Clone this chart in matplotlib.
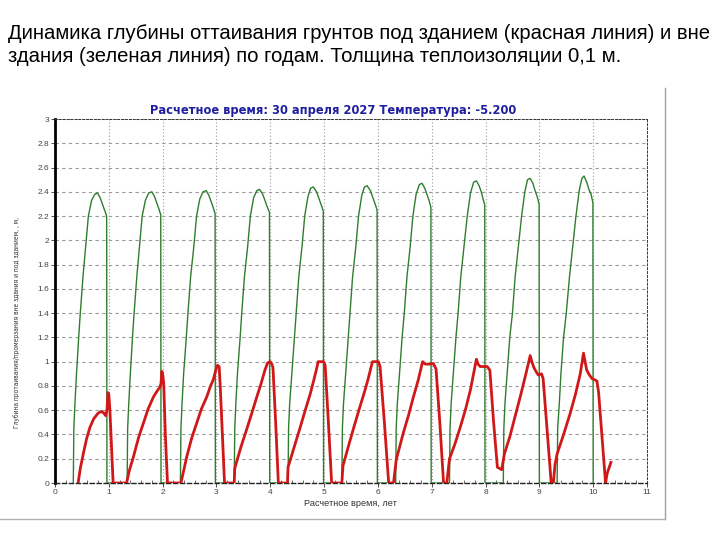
import matplotlib
matplotlib.use("Agg")
import matplotlib.pyplot as plt
from matplotlib.lines import Line2D
from matplotlib.ticker import MultipleLocator, FuncFormatter

# ---------------- data ----------------
heading = ("Динамика глубины оттаивания грунтов под зданием (красная линия) и вне\n"
           "здания (зеленая линия) по годам. Толщина теплоизоляции 0,1 м.")
chart_title = "Расчетное время: 30 апреля 2027 Температура: -5.200"
x_label = "Расчетное время, лет"
y_label = "Глубина протаивания/промерзания вне здания и под зданием, , м,"

x_ticks = [0, 1, 2, 3, 4, 5, 6, 7, 8, 9, 10, 11]
y_ticks = [0, 0.2, 0.4, 0.6, 0.8, 1, 1.2, 1.4, 1.6, 1.8, 2, 2.2, 2.4, 2.6, 2.8, 3]

# green: thaw depth outside the building
green_t = [
    0.34, 0.35, 0.37, 0.40, 0.44, 0.47, 0.52, 0.57, 0.62, 0.68, 0.74, 0.79, 0.84, 0.88, 0.92, 0.96, 0.965,
    1.34, 1.35, 1.37, 1.40, 1.44, 1.47, 1.52, 1.57, 1.62, 1.68, 1.74, 1.80, 1.85, 1.89, 1.93, 1.965, 1.97,
    2.33, 2.34, 2.36, 2.39, 2.44, 2.47, 2.52, 2.58, 2.63, 2.69, 2.75, 2.81, 2.86, 2.90, 2.94, 2.975, 2.98,
    3.33, 3.34, 3.36, 3.39, 3.44, 3.47, 3.52, 3.58, 3.63, 3.69, 3.75, 3.80, 3.86, 3.90, 3.94, 3.985, 3.99,
    4.33, 4.34, 4.36, 4.40, 4.45, 4.48, 4.53, 4.59, 4.64, 4.70, 4.75, 4.80, 4.86, 4.90, 4.94, 4.985, 4.99,
    5.33, 5.34, 5.36, 5.40, 5.45, 5.48, 5.53, 5.59, 5.64, 5.70, 5.75, 5.80, 5.86, 5.90, 5.94, 5.985, 5.99,
    6.33, 6.34, 6.36, 6.40, 6.45, 6.49, 6.54, 6.60, 6.65, 6.71, 6.77, 6.82, 6.87, 6.91, 6.95, 6.985, 6.99,
    7.33, 7.34, 7.36, 7.40, 7.45, 7.49, 7.54, 7.60, 7.66, 7.72, 7.78, 7.83, 7.88, 7.92, 7.95, 7.985, 7.99,
    8.33, 8.34, 8.36, 8.40, 8.45, 8.50, 8.55, 8.61, 8.67, 8.73, 8.78, 8.83, 8.88, 8.92, 8.96, 8.995, 9.00,
    9.33, 9.34, 9.37, 9.40, 9.45, 9.50, 9.56, 9.62, 9.68, 9.74, 9.79, 9.83, 9.88, 9.92, 9.96, 9.995, 10.00,
]
green_d = [
    0, 0.45, 0.65, 0.90, 1.20, 1.40, 1.70, 1.95, 2.20, 2.33, 2.38, 2.39, 2.35, 2.30, 2.25, 2.20, 0,
    0, 0.45, 0.65, 0.90, 1.20, 1.40, 1.70, 1.95, 2.20, 2.33, 2.39, 2.40, 2.36, 2.31, 2.26, 2.21, 0,
    0, 0.45, 0.65, 0.90, 1.20, 1.40, 1.70, 1.95, 2.20, 2.34, 2.40, 2.41, 2.37, 2.32, 2.27, 2.22, 0,
    0, 0.45, 0.65, 0.90, 1.20, 1.40, 1.70, 1.95, 2.20, 2.35, 2.41, 2.42, 2.38, 2.33, 2.28, 2.23, 0,
    0, 0.45, 0.65, 0.90, 1.20, 1.40, 1.70, 1.95, 2.20, 2.36, 2.43, 2.44, 2.40, 2.35, 2.30, 2.24, 0,
    0, 0.45, 0.65, 0.90, 1.20, 1.40, 1.70, 1.95, 2.20, 2.37, 2.44, 2.45, 2.41, 2.36, 2.31, 2.25, 0,
    0, 0.45, 0.65, 0.90, 1.20, 1.40, 1.70, 1.95, 2.20, 2.38, 2.46, 2.47, 2.43, 2.38, 2.33, 2.27, 0,
    0, 0.45, 0.65, 0.90, 1.20, 1.40, 1.70, 1.95, 2.20, 2.39, 2.48, 2.49, 2.45, 2.40, 2.35, 2.29, 0,
    0, 0.45, 0.65, 0.90, 1.20, 1.40, 1.70, 1.95, 2.20, 2.40, 2.50, 2.51, 2.47, 2.41, 2.36, 2.30, 0,
    0, 0.45, 0.65, 0.90, 1.20, 1.40, 1.70, 1.95, 2.20, 2.41, 2.51, 2.53, 2.48, 2.42, 2.38, 2.31, 0,
]

# red: thaw depth under the building
red_t = [
    0.43, 0.47, 0.53, 0.59, 0.65, 0.72, 0.80, 0.86, 0.91, 0.94, 0.965, 0.985, 1.00, 1.02, 1.05, 1.08,
    1.33, 1.38, 1.46, 1.55, 1.64, 1.73, 1.83, 1.90, 1.95, 1.97, 1.985, 2.00, 2.02, 2.05, 2.09,
    2.34, 2.39, 2.45, 2.54, 2.63, 2.72, 2.82, 2.89, 2.94, 2.97, 3.00, 3.02, 3.05, 3.07, 3.11, 3.15,
    3.33, 3.34, 3.45, 3.56, 3.66, 3.75, 3.83, 3.90, 3.95, 4.00, 4.03, 4.05, 4.10, 4.15,
    4.32, 4.33, 4.44, 4.55, 4.65, 4.74, 4.81, 4.86, 4.89, 4.99, 5.02, 5.08, 5.14,
    5.33, 5.35, 5.45, 5.56, 5.66, 5.75, 5.82, 5.87, 5.90, 6.01, 6.04, 6.12, 6.20,
    6.29, 6.34, 6.47, 6.57, 6.66, 6.75, 6.83, 6.88, 6.95, 7.03, 7.08, 7.15, 7.22,
    7.28, 7.33, 7.43, 7.53, 7.63, 7.72, 7.80, 7.83, 7.86, 7.90, 7.96, 8.03, 8.08, 8.15, 8.22, 8.30,
    8.35, 8.45, 8.55, 8.65, 8.75, 8.83, 8.86, 8.90, 8.95, 8.98, 9.04, 9.07, 9.15, 9.22,
    9.26, 9.29, 9.33, 9.45, 9.57, 9.67, 9.76, 9.82, 9.85, 9.88, 9.93, 9.98, 10.03, 10.07, 10.10, 10.17, 10.23, 10.26, 10.33,
]
red_d = [
    0, 0.12, 0.25, 0.37, 0.46, 0.53, 0.575, 0.59, 0.575, 0.555, 0.60, 0.745, 0.73, 0.60, 0.30, 0,
    0, 0.10, 0.22, 0.37, 0.49, 0.61, 0.71, 0.76, 0.79, 0.82, 0.92, 0.90, 0.82, 0.40, 0,
    0, 0.10, 0.22, 0.37, 0.49, 0.61, 0.71, 0.80, 0.85, 0.90, 0.95, 0.97, 0.96, 0.80, 0.40, 0,
    0, 0.12, 0.29, 0.44, 0.58, 0.71, 0.82, 0.93, 0.99, 1.00, 0.98, 0.95, 0.50, 0,
    0, 0.13, 0.29, 0.45, 0.60, 0.73, 0.85, 0.94, 1.00, 1.00, 0.97, 0.50, 0,
    0, 0.14, 0.30, 0.47, 0.62, 0.75, 0.86, 0.95, 1.00, 1.00, 0.96, 0.50, 0,
    0, 0.19, 0.41, 0.56, 0.71, 0.85, 1.00, 0.98, 0.98, 0.985, 0.94, 0.50, 0,
    0, 0.20, 0.32, 0.46, 0.61, 0.77, 0.95, 1.02, 0.98, 0.96, 0.96, 0.96, 0.93, 0.50, 0.13, 0.11,
    0.24, 0.38, 0.55, 0.72, 0.90, 1.05, 1.00, 0.95, 0.91, 0.89, 0.90, 0.86, 0.40, 0,
    0, 0.15, 0.24, 0.40, 0.57, 0.73, 0.90, 1.07, 1.00, 0.93, 0.89, 0.86, 0.85, 0.84, 0.75, 0.35, 0, 0.08, 0.17,
]

# ---------------- figure ----------------
plt.rcParams['font.family'] = ['Liberation Sans', 'DejaVu Sans']
fig = plt.figure(figsize=(7.2, 5.4), dpi=100)
fig.patch.set_facecolor('white')

fig.text(8 / 720, 1 - 24 / 540, heading, ha='left', va='top', fontsize=14.6,
         color='black', linespacing=1.3)

ax = fig.add_axes([55 / 720, 1 - 483 / 540, 592 / 720, 364 / 540])
ax.set_xlim(0, 11)
ax.set_ylim(0, 3)

ax.plot(green_t, green_d, color='#2f7d2f', lw=1.0, zorder=3)
ax.plot(red_t, red_d, color='#d01818', lw=2.0, zorder=4)

ax.set_xticks(x_ticks)
ax.set_yticks(y_ticks)
fmt = FuncFormatter(lambda v, p: ('%g' % v))
ax.xaxis.set_major_formatter(fmt)
ax.yaxis.set_major_formatter(fmt)
ax.xaxis.set_minor_locator(MultipleLocator(0.2))
ax.tick_params(axis='both', labelsize=6.0, colors='#333333', labelcolor='#444444',
               length=3, width=0.6, pad=1.2)
ax.tick_params(axis='x', which='minor', length=2, width=0.5, direction='in', colors='#333333')

ax.grid(True, axis='y', color='#9a9a9a', lw=0.8, linestyle=(0, (3, 3)))
ax.grid(True, axis='x', color='#9a9a9a', lw=0.8, linestyle=(0, (1, 2)))

for s in ['top', 'right']:
    ax.spines[s].set_linestyle((0, (2, 2)))
    ax.spines[s].set_linewidth(0.7)
    ax.spines[s].set_color('#333333')
ax.spines['bottom'].set_linestyle((0, (3, 2)))
ax.spines['bottom'].set_linewidth(1.0)
ax.spines['bottom'].set_color('#222222')
ax.spines['left'].set_linewidth(2.0)
ax.spines['left'].set_color('black')

fig.text(333 / 720, 1 - 111 / 540, chart_title, ha='center', va='center',
         fontsize=8.3, fontweight='bold', color='#1f1fa0', family='DejaVu Sans')
fig.text(350 / 720, 1 - 503 / 540, x_label, ha='center', va='center',
         fontsize=6.6, color='#333333')
fig.text(17 / 720, 1 - 323 / 540, y_label, ha='center', va='center', rotation=90,
         fontsize=4.8, color='#333333', family='DejaVu Sans', fontstretch='condensed')

# frame of the embedded screenshot
fig.add_artist(Line2D([665 / 720, 665 / 720], [1 - 88 / 540, 1 - 519 / 540],
                      color='#a0a0a0', lw=1.0, transform=fig.transFigure))
fig.add_artist(Line2D([0, 665 / 720], [1 - 519 / 540, 1 - 519 / 540],
                      color='#b0b0b0', lw=1.0, transform=fig.transFigure))

fig.savefig('out.png', dpi=100, facecolor='white')
